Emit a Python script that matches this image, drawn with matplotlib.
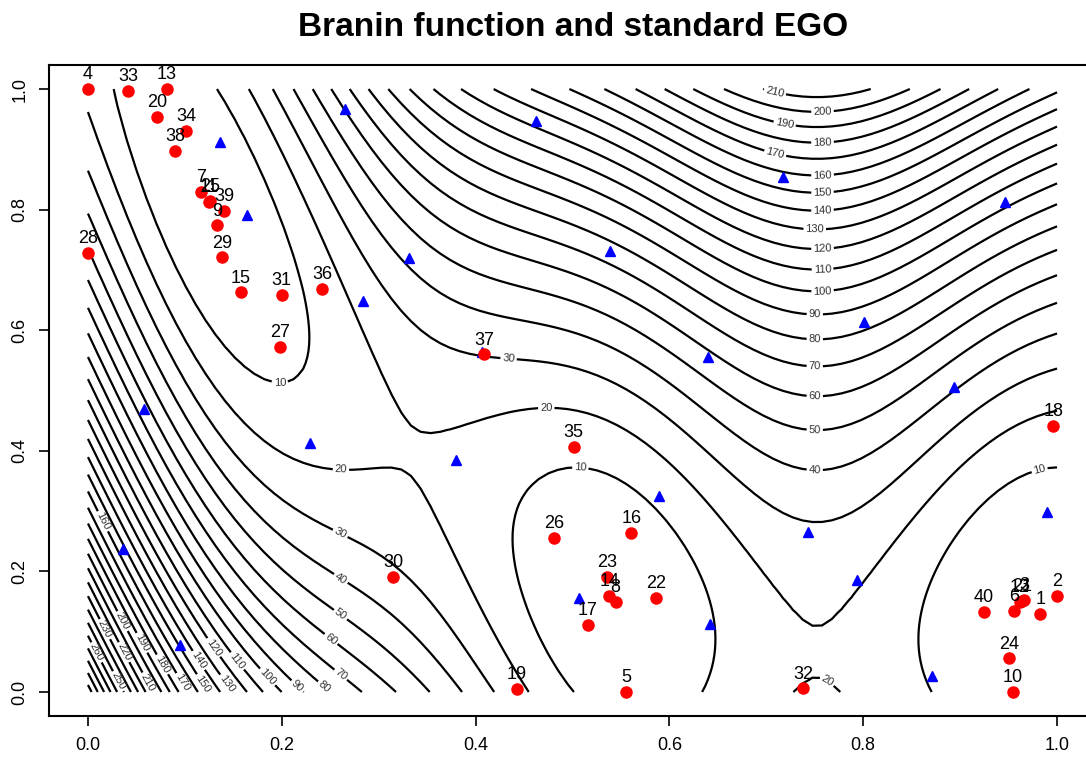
import numpy as np
import matplotlib
matplotlib.use("Agg")
import matplotlib.pyplot as plt

plt.rcParams['font.family'] = ['Liberation Sans', 'DejaVu Sans']

# ---- data -----------------------------------------------------------
# initial design (blue triangles)
design_x = [0.1362, 0.1644, 0.2652, 0.4623, 0.3310, 0.5390, 0.2841, 0.4063,
            0.3798, 0.5896, 0.7169, 0.8011, 0.6401, 0.8937, 0.9894, 0.7427,
            0.7933, 0.8707, 0.5064, 0.6419, 0.0578, 0.2291, 0.0364, 0.0949,
            0.9463]
design_y = [0.9126, 0.7910, 0.9663, 0.9474, 0.7192, 0.7313, 0.6489, 0.5643,
            0.3847, 0.3255, 0.8546, 0.6141, 0.5561, 0.5066, 0.2990, 0.2648,
            0.1857, 0.0270, 0.1559, 0.1123, 0.4698, 0.4124, 0.2367, 0.0779,
            0.8126]

# EGO added points (red, numbered 1..40)
ego_x = [0.9828, 1.0000, 0.9659, 0.0000, 0.5552, 0.9559, 0.1166, 0.5446,
         0.1331, 0.9543, 0.1252, 0.9618, 0.0812, 0.5380, 0.1576, 0.5607,
         0.5160, 0.9962, 0.4424, 0.0715, 0.9639, 0.5859, 0.5356, 0.9508,
         0.1259, 0.4812, 0.1978, 0.0000, 0.1386, 0.3151, 0.1999, 0.7382,
         0.0413, 0.1011, 0.5012, 0.2418, 0.4087, 0.0898, 0.1404, 0.9244]
ego_y = [0.1294, 0.1597, 0.1526, 1.0000, 0.0000, 0.1348, 0.8297, 0.1493,
         0.7740, 0.0000, 0.8131, 0.1497, 1.0000, 0.1597, 0.6629, 0.2637,
         0.1116, 0.4411, 0.0050, 0.9541, 0.1517, 0.1564, 0.1912, 0.0559,
         0.8151, 0.2559, 0.5721, 0.7285, 0.7209, 0.1912, 0.6584, 0.0061,
         0.9967, 0.9303, 0.4068, 0.6683, 0.5600, 0.8977, 0.7982, 0.1327]
ego_labels = [str(i) for i in range(1, 41)]

contour_levels = list(range(10, 310, 10))
x_ticks = [0.0, 0.2, 0.4, 0.6, 0.8, 1.0]
y_ticks = [0.0, 0.2, 0.4, 0.6, 0.8, 1.0]
title = "Branin function and standard EGO"

# label anchor points for the contour labels (layout only)
clabel_pos = [(0.198, 0.515), (0.508, 0.370), (0.982, 0.368), (0.473, 0.469),
              (0.261, 0.368), (0.761, 0.013), (0.434, 0.552), (0.260, 0.262),
              (0.260, 0.186), (0.260, 0.127), (0.250, 0.086), (0.260, 0.027),
              (0.243, 0.007), (0.215, 0.008), (0.184, 0.023), (0.153, 0.050),
              (0.129, 0.073), (0.142, 0.012), (0.112, 0.050), (0.117, 0.012),
              (0.014, 0.282), (0.097, 0.015), (0.076, 0.045), (0.055, 0.081),
              (0.035, 0.117), (0.061, 0.015), (0.036, 0.065), (0.016, 0.103),
              (0.030, 0.017), (0.008, 0.065),
              (0.750, 0.367), (0.750, 0.434), (0.750, 0.490), (0.750, 0.539),
              (0.750, 0.585), (0.750, 0.626), (0.758, 0.666), (0.758, 0.701),
              (0.758, 0.736), (0.750, 0.767), (0.758, 0.798), (0.758, 0.829),
              (0.758, 0.858), (0.709, 0.892), (0.758, 0.912), (0.719, 0.943),
              (0.758, 0.962), (0.709, 0.996)]


def branin(u, v):
    x1 = u * 15 - 5
    x2 = v * 15
    return ((x2 - 5 / (4 * np.pi ** 2) * x1 ** 2 + 5 / np.pi * x1 - 6) ** 2
            + 10 * (1 - 1 / (8 * np.pi)) * np.cos(x1) + 10)


n_grid = 100
g = np.linspace(0, 1, n_grid)
GX, GY = np.meshgrid(g, g)
Z = branin(GX, GY)

# ---- figure ---------------------------------------------------------
W, H = 1086, 758
fig = plt.figure(figsize=(W / 100, H / 100), dpi=100)
left, right, top, bottom = 49.2, 1095.8, 64.9, 716.1
ax = fig.add_axes([left / W, (H - bottom) / H, (right - left) / W, (bottom - top) / H])
ax.set_xlim(-0.04, 1.04)
ax.set_ylim(-0.04, 1.04)

cs = ax.contour(GX, GY, Z, levels=contour_levels, colors='black', linewidths=1.6)
ax.clabel(cs, fmt='%d', fontsize=8, colors='#333333', inline=True,
          inline_spacing=2, manual=clabel_pos)

ax.plot(design_x, design_y, linestyle='none', marker='^', color='blue',
        markersize=7.5, clip_on=False, zorder=3)
ax.plot(ego_x, ego_y, linestyle='none', marker='o', color='red',
        markersize=8, clip_on=False, zorder=4)
for xv, yv, lab in zip(ego_x, ego_y, ego_labels):
    ax.annotate(lab, (xv, yv), xytext=(0, 4), textcoords='offset points',
                ha='center', va='bottom', fontsize=13, color='black',
                annotation_clip=False, zorder=5)

ax.set_xticks(x_ticks)
ax.set_yticks(y_ticks)
ax.set_xticklabels([f"{t:.1f}" for t in x_ticks])
ax.set_yticklabels([f"{t:.1f}" for t in y_ticks], rotation=90, va='center')
ax.tick_params(axis='both', direction='out', length=7, width=1.2,
               labelsize=13, pad=8)
for sp in ax.spines.values():
    sp.set_linewidth(1.5)

fig.text(0.528, 1 - 27 / H, title, ha='center', va='center',
         fontsize=24, fontweight='bold')

fig.savefig("out.png", dpi=100)
